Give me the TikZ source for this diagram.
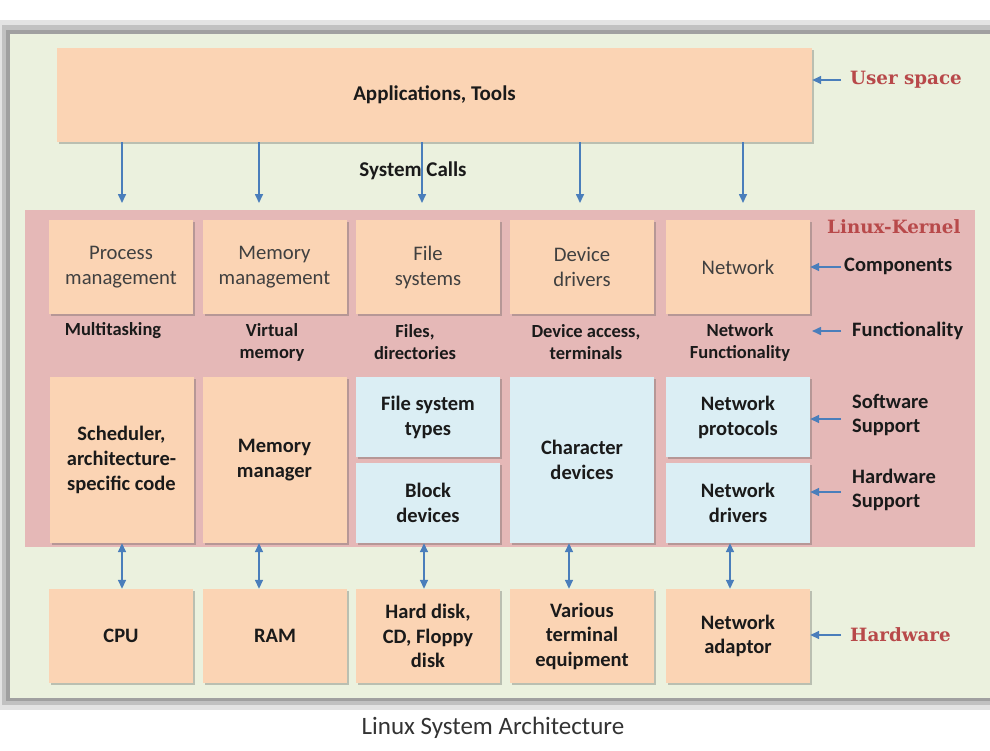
\documentclass[tikz,border=0pt]{standalone}
\usepackage{fontspec}
\setmainfont{Carlito}
\newfontfamily\slabfont{DejaVu Serif}
\usetikzlibrary{arrows.meta,shadows}
\definecolor{peach}{HTML}{FBD4B4}
\definecolor{lblue}{HTML}{DBEEF4}
\definecolor{kpink}{HTML}{E5B8B7}
\definecolor{bggreen}{HTML}{EBF1DE}
\definecolor{arrblue}{HTML}{4A7EBB}
\definecolor{redlab}{HTML}{B8494A}
\definecolor{txtgray}{HTML}{404040}
\definecolor{txtdark}{HTML}{1A1A1A}
\definecolor{framegray}{HTML}{8F8F8F}
\tikzset{
  box/.style={rectangle, inner sep=0pt, align=center, fill=peach,
    drop shadow={shadow xshift=2pt, shadow yshift=-2pt, opacity=0.3, fill=black!70}},
  comp/.style={box, minimum width=144pt, minimum height=94pt, text=txtgray,
    font=\fontsize{20.7}{25}\selectfont},
  kbox/.style={box, minimum width=144pt, text=txtdark,
    font=\bfseries\fontsize{20.5}{25}\selectfont},
  hw/.style={box, minimum width=144pt, minimum height=94pt, text=txtdark,
    font=\bfseries\fontsize{20.5}{24.5}\selectfont},
  func/.style={align=center, inner sep=0pt, text=txtdark,
    font=\bfseries\fontsize{18.5}{22}\selectfont},
  side/.style={anchor=west, align=left, inner sep=0pt, text=txtdark,
    font=\bfseries\fontsize{20.5}{24}\selectfont},
  redlabel/.style={anchor=west, inner sep=0pt, text=redlab,
    font=\slabfont\bfseries\fontsize{18.3}{22}\selectfont},
  arr/.style={draw=arrblue, line width=1.6pt, -{Triangle[width=8pt,length=9pt]}},
  darr/.style={draw=arrblue, line width=1.6pt, {Triangle[width=8pt,length=9pt]}-{Triangle[width=8pt,length=9pt]}}
}
\begin{document}
\begin{tikzpicture}[x=1pt,y=-1pt]
\useasboundingbox[fill=white] (0,0) rectangle (990,750);
% outer frame
\fill[framegray!25] (0,20) rectangle (990,710);
\fill[framegray!55] (2,25) rectangle (990,705);
\fill[framegray!85] (6,30) rectangle (990,701);
\fill[bggreen] (10,34) rectangle (990,698);
% user space
\node[box, minimum width=755pt, minimum height=94pt, text=txtdark,
  font=\bfseries\fontsize{21}{25}\selectfont] (app) at (434.5,95) {Applications, Tools};
\node[redlabel] (us) at (850,80) {User space};
\node[inner sep=0pt, text=txtdark, font=\bfseries\fontsize{21}{25}\selectfont] (sc) at (413,171) {System Calls};
% kernel
\node[fill=kpink, minimum width=950pt, minimum height=337pt, inner sep=0pt] (kernel) at (500,378.5) {};
\node[redlabel] (lk) at (827,227) {Linux-Kernel};
% components
\node[comp] (pm) at (121,267) {Process\\management};
\node[comp] (mm) at (274.5,267) {Memory\\management};
\node[comp] (fs) at (428,267) {File\\systems};
\node[comp] (dd) at (582,267) {Device\\drivers};
\node[comp] (nw) at (738,267) {Network};
% functionality
\node[func] (f1) at (113,331) {Multitasking};
\node[func] (f2) at (272,342) {Virtual\\memory};
\node[func] (f3) at (415,342) {Files,\\directories};
\node[func] (f4) at (586,342) {Device access,\\terminals};
\node[func] (f5) at (740,342) {Network\\Functionality};
% kernel lower
\node[kbox, minimum height=166pt] (sch) at (121.5,460) {Scheduler,\\architecture-\\specific code};
\node[kbox, minimum height=166pt] (mmg) at (274.5,460) {Memory\\manager};
\node[kbox, minimum height=80pt, fill=lblue] (fst) at (428,417) {File system\\types};
\node[kbox, minimum height=80pt, fill=lblue] (blk) at (428,503) {Block\\devices};
\node[kbox, minimum height=166pt, fill=lblue] (chr) at (582,460) {Character\\devices};
\node[kbox, minimum height=80pt, fill=lblue] (npr) at (738,417) {Network\\protocols};
\node[kbox, minimum height=80pt, fill=lblue] (ndr) at (738,503) {Network\\drivers};
% hardware
\node[hw] (cpu) at (121,636) {CPU};
\node[hw] (ram) at (275,636) {RAM};
\node[hw] (hd) at (428,636) {Hard disk,\\CD, Floppy\\disk};
\node[hw] (vt) at (582,636) {Various\\terminal\\equipment};
\node[hw] (na) at (738,636) {Network\\adaptor};
\node[redlabel] (hwl) at (850,635) {Hardware};
% side labels
\node[side] (lc) at (844,266) {Components};
\node[side] (lf) at (852,331) {Functionality};
\node[side] (ls) at (852,415) {Software\\Support};
\node[side] (lh) at (852,490) {Hardware\\Support};
% system call arrows
\foreach \i/\x in {1/122,2/259,3/422,4/580,5/743}{
  \coordinate (s\i) at (\x,203);
  \draw[arr] (app.south -| s\i) -- (s\i);
}
% hardware arrows
\coordinate (h1) at (122,0);
\coordinate (h2) at (259,0);
\coordinate (h3) at (424,0);
\coordinate (h4) at (569,0);
\coordinate (h5) at (730,0);
\draw[darr] (sch.south -| h1) -- (cpu.north -| h1);
\draw[darr] (mmg.south -| h2) -- (ram.north -| h2);
\draw[darr] (blk.south -| h3) -- (hd.north -| h3);
\draw[darr] (chr.south -| h4) -- (vt.north -| h4);
\draw[darr] (ndr.south -| h5) -- (na.north -| h5);
% side arrows
\coordinate (a1) at (841,80);
\coordinate (a2) at (841,267);
\coordinate (a3) at (841,331);
\coordinate (a3e) at (812,331);
\coordinate (a4) at (841,419);
\coordinate (a5) at (841,492);
\coordinate (a6) at (841,635);
\draw[arr] (a1) -- (app.east |- a1);
\draw[arr] (a2) -- (nw.east |- a2);
\draw[arr] (a3) -- (a3e);
\draw[arr] (a4) -- (npr.east |- a4);
\draw[arr] (a5) -- (ndr.east |- a5);
\draw[arr] (a6) -- (na.east |- a6);
% caption
\node[inner sep=0pt, text=black!80, font=\fontsize{25}{29}\selectfont] (cap) at (493,728) {Linux System Architecture};
\end{tikzpicture}
\end{document}
